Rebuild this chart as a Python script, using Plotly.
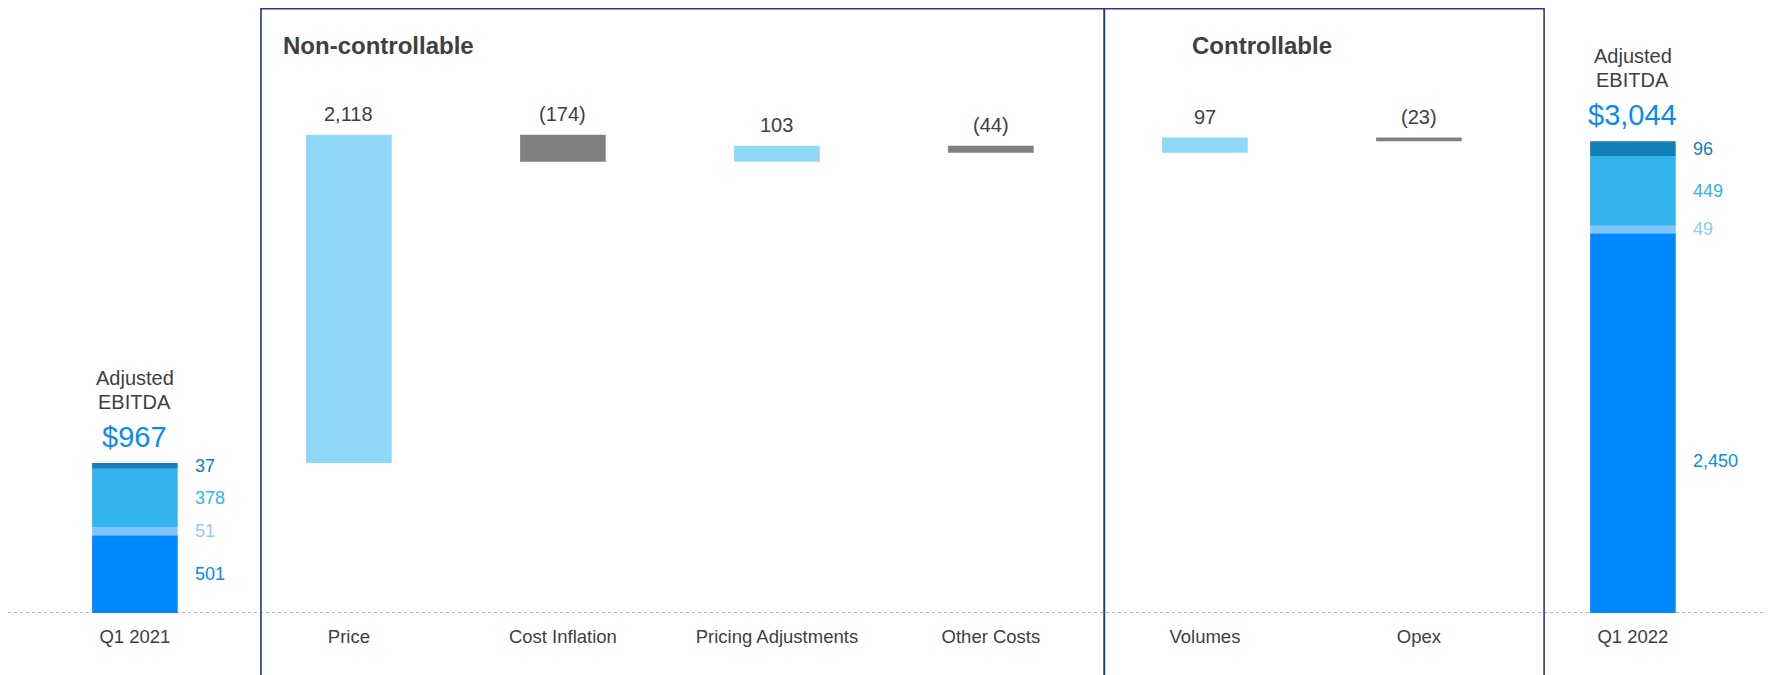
import plotly.graph_objects as go

# categories along the bridge
categories = ["Q1 2021", "Price", "Cost Inflation", "Pricing Adjustments",
              "Other Costs", "Volumes", "Opex", "Q1 2022"]

# stacked components of the two totals (bottom -> top)
seg_2021 = [501, 51, 378, 37]
seg_2022 = [2450, 49, 449, 96]
seg_colors = ["#0088FF", "#80C4FF", "#33B4EE", "#1280B6"]
seg_label_colors = ["#0A8AF5", "#8FCBFF", "#33B4EE", "#1280B6"]

# bridge steps
step_names = ["Price", "Cost Inflation", "Pricing Adjustments",
              "Other Costs", "Volumes", "Opex"]
step_values = [2118, -174, 103, -44, 97, -23]

FONT = "Liberation Sans, Arial, sans-serif"
TXT = "#404040"
BAR_W = 0.4
PLOT_H = 605  # px height of plot area

fig = go.Figure()

# stacked totals
for i in range(4):
    base = [sum(seg_2021[:i]), sum(seg_2022[:i])]
    fig.add_trace(go.Bar(
        x=["Q1 2021", "Q1 2022"], y=[seg_2021[i], seg_2022[i]], base=base,
        width=BAR_W, marker_color=seg_colors[i], marker_line_width=0,
        showlegend=False, hoverinfo="skip"))

# waterfall steps
running = sum(seg_2021)
bases, tops = [], []
for v in step_values:
    bases.append(running if v >= 0 else running + v)
    running += v
    tops.append(max(running, running - v))

up_x = [n for n, v in zip(step_names, step_values) if v >= 0]
up_y = [v for v in step_values if v >= 0]
up_b = [b for b, v in zip(bases, step_values) if v >= 0]
dn_x = [n for n, v in zip(step_names, step_values) if v < 0]
dn_y = [-v for v in step_values if v < 0]
dn_b = [b for b, v in zip(bases, step_values) if v < 0]

fig.add_trace(go.Bar(x=up_x, y=up_y, base=up_b, width=BAR_W,
                     marker_color="#8ED7F6", marker_line_width=0,
                     showlegend=False, hoverinfo="skip"))
fig.add_trace(go.Bar(x=dn_x, y=dn_y, base=dn_b, width=BAR_W,
                     marker_color="#808080", marker_line_width=0,
                     showlegend=False, hoverinfo="skip"))

ann = []
# value labels above steps
for n, v, t in zip(step_names, step_values, tops):
    txt = f"{v:,}" if v >= 0 else f"({-v:,})"
    ann.append(dict(x=n, y=t, text=txt, showarrow=False, yanchor="bottom",
                    yshift=8, font=dict(size=20, color=TXT, family=FONT)))

# segment labels right of the totals
for cat, segs in [("Q1 2021", seg_2021), ("Q1 2022", seg_2022)]:
    base = 0
    for i, v in enumerate(segs):
        ymid = base + v / 2 if v < 1000 else base + v * 0.4
        ann.append(dict(x=cat, y=ymid, text=f"{v:,}", showarrow=False,
                        xanchor="left", yanchor="middle", xshift=58,
                        font=dict(size=18, color=seg_label_colors[i], family=FONT)))
        base += v
    total = sum(segs)
    ann.append(dict(x=cat, y=total, text=f"${total:,}", showarrow=False,
                    yanchor="bottom", yshift=8,
                    font=dict(size=29, color="#0A8AF5", family=FONT)))
    ann.append(dict(x=cat, y=total, text="EBITDA", showarrow=False,
                    yanchor="bottom", yshift=48,
                    font=dict(size=20, color=TXT, family=FONT)))
    ann.append(dict(x=cat, y=total, text="Adjusted", showarrow=False,
                    yanchor="bottom", yshift=72,
                    font=dict(size=20, color=TXT, family=FONT)))

# section titles
ann.append(dict(xref="paper", yref="paper", x=273 / 1773, y=(PLOT_H - 37) / PLOT_H,
                text="<b>Non-controllable</b>", showarrow=False,
                xanchor="left", yanchor="middle",
                font=dict(size=24, color=TXT, family=FONT)))
ann.append(dict(xref="paper", yref="paper", x=1254 / 1773, y=(PLOT_H - 37) / PLOT_H,
                text="<b>Controllable</b>", showarrow=False,
                xanchor="center", yanchor="middle",
                font=dict(size=24, color=TXT, family=FONT)))

box_line = dict(color="#2A3590", width=1.6)
shapes = [
    # dotted baseline
    dict(type="line", xref="paper", yref="y", x0=0, x1=1, y0=0, y1=0,
         line=dict(color="#9A9A9A", width=1.4, dash="dot"), layer="below"),
    # section boxes
    dict(type="rect", xref="x", yref="paper", x0=0.589, x1=4.53, y0=-0.3, y1=0.999,
         line=box_line, fillcolor="rgba(0,0,0,0)"),
    dict(type="rect", xref="x", yref="paper", x0=4.53, x1=6.585, y0=-0.3, y1=0.999,
         line=box_line, fillcolor="rgba(0,0,0,0)"),
]

fig.update_layout(
    width=1773, height=675,
    margin=dict(l=0, r=0, t=0, b=675 - PLOT_H),
    barmode="overlay",
    plot_bgcolor="white", paper_bgcolor="white",
    annotations=ann, shapes=shapes,
    xaxis=dict(type="category", categoryorder="array", categoryarray=categories,
               range=[-0.593, 7.692], showgrid=False, zeroline=False,
               showline=False, ticks="", ticklabelstandoff=10,
               tickfont=dict(size=18.5, color=TXT, family=FONT)),
    yaxis=dict(range=[0, PLOT_H / 0.155], visible=False,
               showgrid=False, zeroline=False),
    font=dict(family=FONT),
)

fig.write_html("out.html")
